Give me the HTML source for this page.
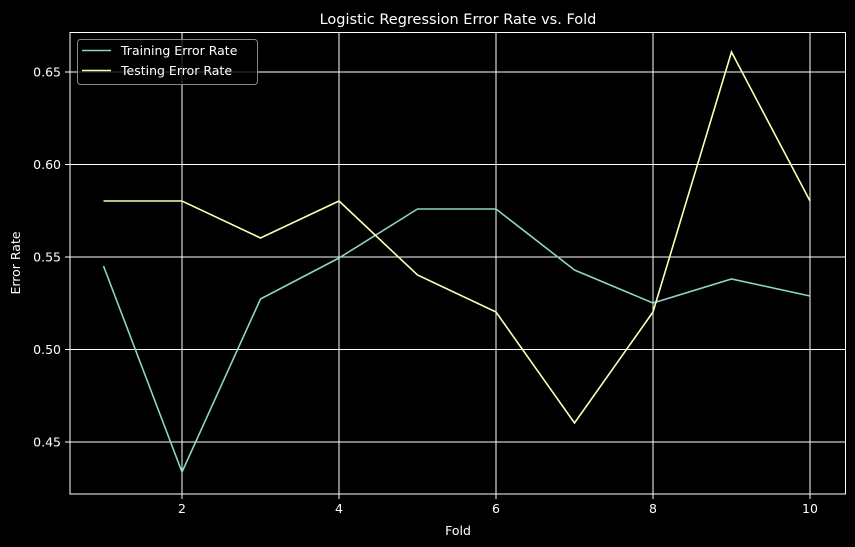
<!DOCTYPE html>
<html><head><style>body{margin:0;background:#000}svg{display:block}</style></head><body>
<svg width="855" height="547" xmlns="http://www.w3.org/2000/svg" font-family="DejaVu Sans, Liberation Sans, sans-serif">
<rect width="855" height="547" fill="#000"/>
<g stroke="#fff" stroke-width="1">
<line x1="182" y1="32.5" x2="182" y2="494"/><line x1="339" y1="32.5" x2="339" y2="494"/><line x1="496" y1="32.5" x2="496" y2="494"/><line x1="653" y1="32.5" x2="653" y2="494"/><line x1="810" y1="32.5" x2="810" y2="494"/>
<line x1="70" y1="72" x2="845.5" y2="72"/><line x1="70" y1="164.5" x2="845.5" y2="164.5"/><line x1="70" y1="257" x2="845.5" y2="257"/><line x1="70" y1="349.5" x2="845.5" y2="349.5"/><line x1="70" y1="442" x2="845.5" y2="442"/>
<line x1="182" y1="494" x2="182" y2="499"/><line x1="339" y1="494" x2="339" y2="499"/><line x1="496" y1="494" x2="496" y2="499"/><line x1="653" y1="494" x2="653" y2="499"/><line x1="810" y1="494" x2="810" y2="499"/>
<line x1="65" y1="72" x2="70" y2="72"/><line x1="65" y1="164.5" x2="70" y2="164.5"/><line x1="65" y1="257" x2="70" y2="257"/><line x1="65" y1="349.5" x2="70" y2="349.5"/><line x1="65" y1="442" x2="70" y2="442"/>
</g>
<rect x="70" y="32.5" width="775.5" height="461.5" fill="none" stroke="#fff" stroke-width="1"/>
<polyline fill="none" stroke="#8dd3c7" stroke-width="1.6" points="103.5,266 182,472 260.5,299 339,258 417.5,209 496,209 574.5,270 653,303 731.5,279 810,296"/>
<polyline fill="none" stroke="#ffffb3" stroke-width="1.6" points="103.5,201 182,201 260.5,238 339,201 417.5,275 496,312 574.5,423 653,312 731.5,52 810,201"/>
<g fill="#fff" font-size="12.5">
<text x="182" y="513" text-anchor="middle">2</text><text x="339" y="513" text-anchor="middle">4</text><text x="496" y="513" text-anchor="middle">6</text><text x="653" y="513" text-anchor="middle">8</text><text x="810" y="513" text-anchor="middle">10</text>
<text x="61" y="76.5" text-anchor="end">0.65</text><text x="61" y="169" text-anchor="end">0.60</text><text x="61" y="261.5" text-anchor="end">0.55</text><text x="61" y="354" text-anchor="end">0.50</text><text x="61" y="446.5" text-anchor="end">0.45</text>
<text x="458" y="535" text-anchor="middle">Fold</text>
<text transform="translate(20,263) rotate(-90)" text-anchor="middle">Error Rate</text>
<text x="458" y="24" text-anchor="middle" font-size="14.5">Logistic Regression Error Rate vs. Fold</text>
</g>
<rect x="77.5" y="39.5" width="180" height="45" rx="3" fill="#000" fill-opacity="0.8" stroke="#888" stroke-width="1"/>
<line x1="82" y1="50.5" x2="111" y2="50.5" stroke="#8dd3c7" stroke-width="1.6"/>
<line x1="82" y1="70.5" x2="111" y2="70.5" stroke="#ffffb3" stroke-width="1.6"/>
<g fill="#fff" font-size="12.5"><text x="121" y="55">Training Error Rate</text><text x="121" y="75">Testing Error Rate</text></g>
</svg>
</body></html>
